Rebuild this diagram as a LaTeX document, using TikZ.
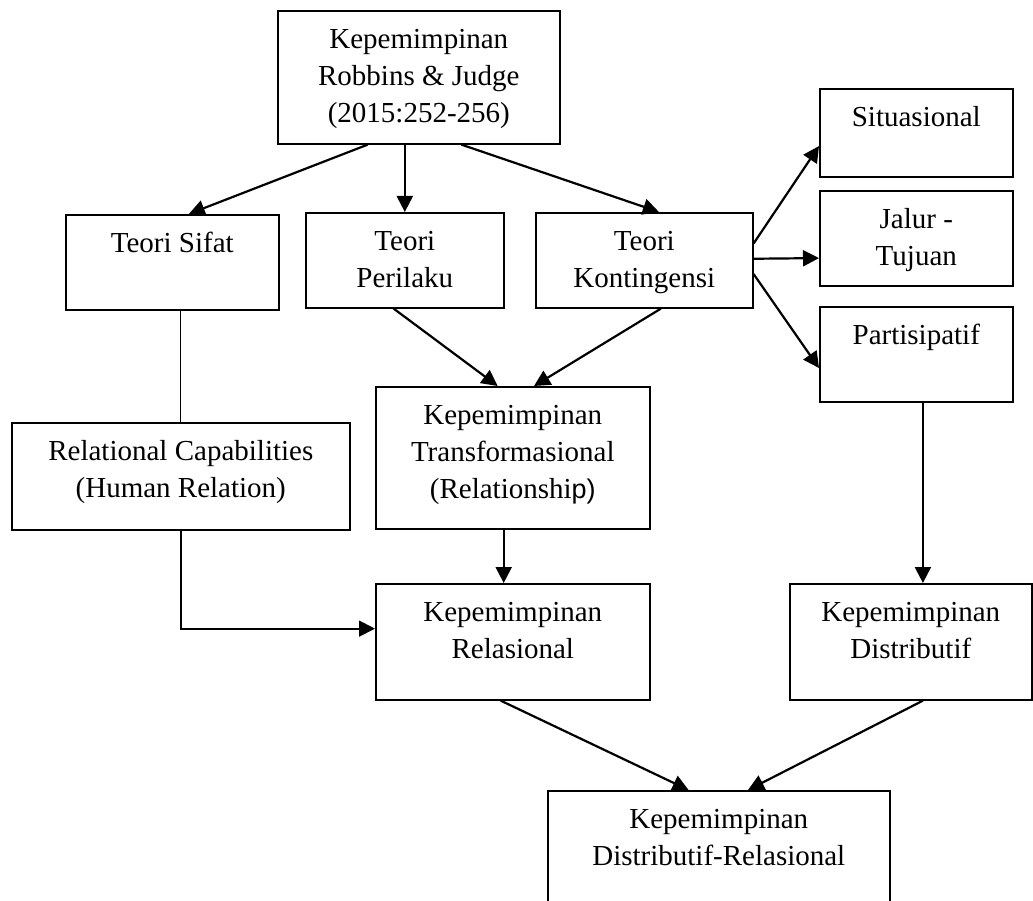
\documentclass[tikz,border=0pt]{standalone}
\usepackage{fontspec}
\setmainfont{Liberation Serif}
\newfontfamily\sansp{Liberation Sans}
\usetikzlibrary{arrows.meta,calc}
\newcommand{\bxt}[3]{\parbox[c][#2pt][t]{#1pt}{\centering\rule{0pt}{38pt}#3}}
\begin{document}
\begin{tikzpicture}[x=1pt,y=-1pt,
  box/.style={draw, line width=1.6pt, inner sep=0pt, anchor=north west, font=\fontsize{29}{37}\selectfont},
  arr/.style={line width=2.2pt, -{Triangle[length=16pt,width=16pt]}},
  conn/.style={line width=1.8pt, -{Triangle[length=16pt,width=16pt]}},
  thinline/.style={line width=1.3pt}]
\useasboundingbox (0,0) rectangle (1033,901);
\clip (0,0) rectangle (1033,901);
\node[box] (top) at (277,10) {\bxt{282}{133}{Kepemimpinan\\Robbins \& Judge\\(2015:252-256)}};
\node[box] (sifat) at (65,214) {\bxt{213}{95}{Teori Sifat}};
\node[box] (per) at (305,212) {\bxt{198}{95}{Teori\\Perilaku}};
\node[box] (kon) at (535,212) {\bxt{217}{95}{Teori\\Kontingensi}};
\node[box] (sit) at (819,88) {\bxt{193}{88}{Situasional}};
\node[box] (jal) at (819,190) {\bxt{193}{95}{Jalur -\\Tujuan}};
\node[box] (par) at (819,306) {\bxt{193}{95}{Partisipatif}};
\node[box] (rel) at (11,422) {\bxt{338}{107}{Relational Capabilities\\(Human Relation)}};
\node[box] (tra) at (375,386) {\bxt{274}{142}{Kepemimpinan\\Transformasional\\(Relationshi{\sansp\fontsize{27}{37}\selectfont p)}}};
\node[box] (rls) at (375,583) {\bxt{274}{116}{Kepemimpinan\\Relasional}};
\node[box] (dis) at (789,583) {\bxt{242}{116}{Kepemimpinan\\Distributif}};
\node[box] (bot) at (547,790) {\bxt{342}{140}{Kepemimpinan\\Distributif-Relasional}};
% connectors
\draw[arr] ($(top.south west)!0.32!(top.south east)$) -- ($(sifat.north west)!0.577!(sifat.north east)$);
\draw[arr] (top.south -| per.north) -- (per.north);
\draw[arr] ($(top.south west)!0.65!(top.south east)$) -- ($(kon.north west)!0.567!(kon.north east)$);
\draw[arr] ($(kon.north east)!0.326!(kon.south east)$) -- ($(sit.north west)!0.648!(sit.south west)$);
\draw[arr] ($(kon.north east)!0.484!(kon.south east)$) -- ($(jal.north west)!0.705!(jal.south west)$);
\draw[arr] ($(kon.north east)!0.642!(kon.south east)$) -- ($(par.north west)!0.642!(par.south west)$);
\draw[arr] ($(per.south west)!0.444!(per.south east)$) -- ($(tra.north west)!0.445!(tra.north east)$);
\draw[arr] ($(kon.south west)!0.576!(kon.south east)$) -- ($(tra.north west)!0.577!(tra.north east)$);
\coordinate (t1) at ($(tra.south west)!0.467!(tra.south east)$);
\draw[arr] (t1) -- (t1 |- rls.north);
\draw[thinline] (sifat.south -| rel.north) -- (rel.north);
\coordinate (r1) at ($(rls.north west)!0.388!(rls.south west)$);
\draw[conn] (rel.south) |- (r1);
\coordinate (p1) at ($(par.south west)!0.534!(par.south east)$);
\draw[arr] (p1) -- (p1 |- dis.north);
\draw[arr] ($(rls.south west)!0.456!(rls.south east)$) -- ($(bot.north west)!0.412!(bot.north east)$);
\draw[arr] ($(dis.south west)!0.55!(dis.south east)$) -- ($(bot.north west)!0.585!(bot.north east)$);
\end{tikzpicture}
\end{document}
